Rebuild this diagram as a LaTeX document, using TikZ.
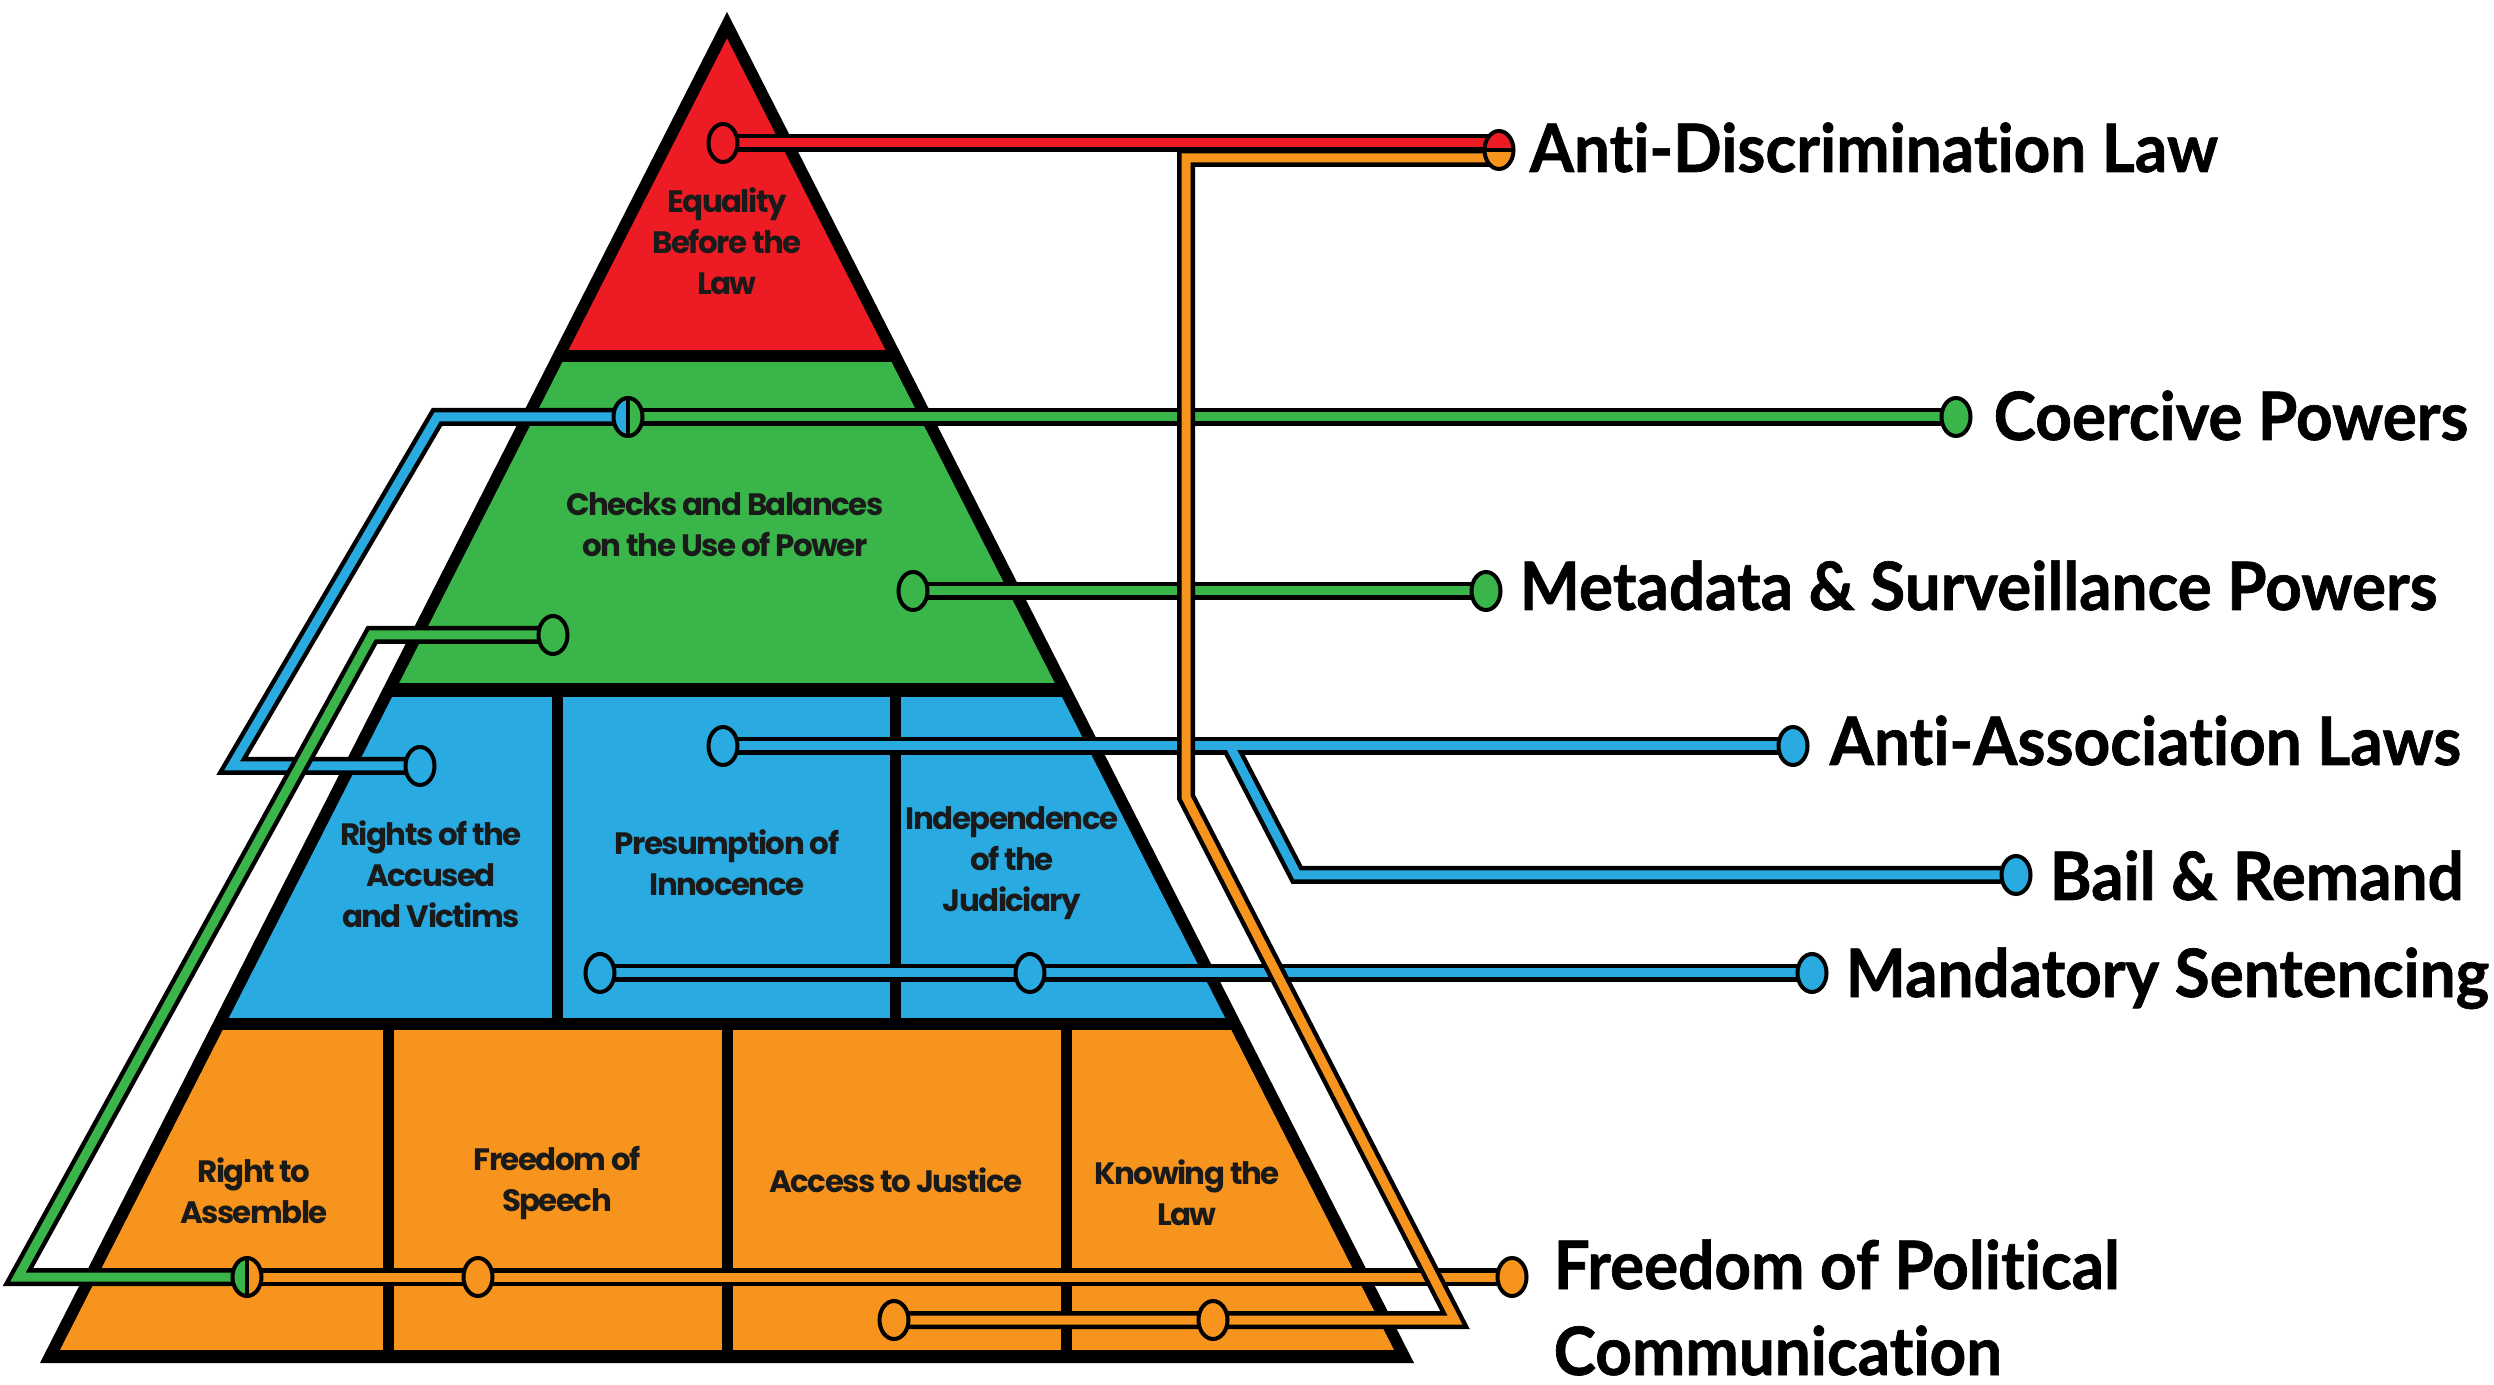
\documentclass[tikz,border=0pt]{standalone}
\usepackage{fontspec}
\usetikzlibrary{shapes.geometric}
\newfontfamily\labfont{Lato}[Ligatures=NoCommon, FakeStretch=0.955, BoldFeatures={FakeBold=1}]
\newfontfamily\inrfont{Poppins}[LetterSpace=-5]
\definecolor{pred}{HTML}{ED1C24}
\definecolor{pgreen}{HTML}{3AB54A}
\definecolor{pblue}{HTML}{29ABE2}
\definecolor{porange}{HTML}{F7941D}
\definecolor{ink}{HTML}{1A1A1A}
\pgfdeclarelayer{pyr}
\pgfdeclarelayer{conn}
\pgfsetlayers{pyr,conn,main}
\begin{document}
\begin{tikzpicture}[x=0.1mm,y=-0.1mm,
  st/.style={ellipse, draw=black, line width=0.4mm, minimum width=2.9mm, minimum height=3.8mm, inner sep=0pt},
  splitv/.style 2 args={st, fill=#2, path picture={\fill[#1] (path picture bounding box.south west) rectangle (path picture bounding box.north); \draw[line width=0.4mm] (path picture bounding box.north) -- (path picture bounding box.south);}},
  splith/.style 2 args={st, fill=#2, path picture={\fill[#1] (path picture bounding box.north west) rectangle (path picture bounding box.east); \draw[line width=0.4mm] (path picture bounding box.west) -- (path picture bounding box.east);}},
  blk/.style={line width=1.8mm, draw=black},
  core/.style={line width=0.9mm, draw=#1},
  inner/.style={font=\inrfont\bfseries\fontsize{8.8}{11.7}\selectfont, align=center, text=ink, inner sep=0pt},
  lab/.style={font=\labfont\bfseries\fontsize{19}{24.5}\selectfont, anchor=base west, inner sep=0pt, text=black}
]
\useasboundingbox (0,0) rectangle (2494,1385);
\begin{pgfonlayer}{pyr}
\fill[white] (0,0) rectangle (2494,1385);
\fill[black] (727,12) -- (1414,1363) -- (40,1363) -- cycle;
\begin{scope}
\clip (727,38.5) -- (1394,1350) -- (60,1350) -- cycle;
\fill[pred] (0,0) rectangle (2494,350);
\fill[pgreen] (0,362) rectangle (2494,683);
\fill[pblue] (0,697) rectangle (2494,1018);
\fill[porange] (0,1030) rectangle (2494,1350);
\fill[black] (551.5,690) rectangle (562.5,1024);
\fill[black] (889.5,690) rectangle (900.5,1024);
\fill[black] (382.5,1024) rectangle (393.5,1356);
\fill[black] (721.5,1024) rectangle (732.5,1356);
\fill[black] (1060.5,1024) rectangle (1071.5,1356);
\end{scope}
\node[inner] (t-eq) at (727,241) {Equality\\Before the\\Law};
\node[inner] (t-cb) at (725,525) {Checks and Balances\\on the Use of Power};
\node[inner] (t-ra) at (431,874) {Rights of the\\Accused\\and Victims};
\node[inner] (t-pi) at (727,863) {Presumption of\\Innocence};
\node[inner] (t-ij) at (1012,863) {Independence\\of the\\Judiciary};
\node[inner] (t-rt) at (254,1191) {Right to\\Assemble};
\node[inner] (t-fs) at (557,1183) {Freedom of\\Speech};
\node[inner] (t-aj) at (896,1180) {Access to Justice};
\node[inner] (t-kl) at (1187,1193) {Knowing the\\Law};
\end{pgfonlayer}
% stations
\node[st, fill=pred] (s-eq) at (723,143) {};
\node[splith={pred}{porange}] (s-adl) at (1499,150) {};
\node[splitv={pblue}{pgreen}] (s-coer) at (628,417) {};
\node[st, fill=pgreen] (s-cp) at (1956,417) {};
\node[st, fill=pgreen] (s-cb1) at (913,591) {};
\node[st, fill=pgreen] (s-msp) at (1486,591) {};
\node[st, fill=pgreen] (s-cb2) at (553,635) {};
\node[st, fill=pblue] (s-rav) at (420,766) {};
\node[st, fill=pblue] (s-pi) at (723,746) {};
\node[st, fill=pblue] (s-aal) at (1793,746) {};
\node[st, fill=pblue] (s-br) at (2016,875) {};
\node[st, fill=pblue] (s-m1) at (600,973) {};
\node[st, fill=pblue] (s-m2) at (1030,973) {};
\node[st, fill=pblue] (s-ms) at (1812,973) {};
\node[splitv={pgreen}{porange}] (s-rta) at (247,1277) {};
\node[st, fill=porange] (s-fs) at (478,1277) {};
\node[st, fill=porange] (s-fpc) at (1512,1277) {};
\node[st, fill=porange] (s-aj) at (894,1320) {};
\node[st, fill=porange] (s-kl) at (1213,1320) {};
% bends
\coordinate (r-end) at (1499,143);
\coordinate (o-start) at (1499,158);
\coordinate (o-b1) at (1186,158);
\coordinate (o-b2) at (1186,797);
\coordinate (o-b3) at (1455,1320);
\coordinate (b-1) at (437,417);
\coordinate (b-2) at (232,766);
\coordinate (g-1) at (372,635);
\coordinate (g-2) at (18,1277);
\coordinate (br-1) at (1230,746);
\coordinate (br-2) at (1297,875);
% labels
\node[lab] (l-adl) at (1529,172) {Anti-Discrimination Law};
\node[lab] (l-cp) at (1993,440) {Coercive Powers};
\node[lab] (l-msp) at (1519,610) {Metadata \& Surveillance Powers};
\node[lab] (l-aal) at (1829,765) {Anti-Association Laws};
\node[lab] (l-br) at (2049,900) {Bail \& Remand};
\node[lab] (l-ms) at (1845,997) {Mandatory Sentencing};
\node[lab] (l-fpc1) at (1553,1289) {Freedom of Political};
\node[lab] (l-fpc2) at (1553,1375) {Communication};
\begin{pgfonlayer}{conn}
% blue
\draw[blk] (s-coer.center) -- (b-1) -- (b-2) -- (s-rav.center);
\draw[blk] (s-pi.center) -- (s-aal.center);
\draw[blk] (br-1) -- (br-2) -- (s-br.center);
\draw[blk] (s-m1.center) -- (s-m2.center) -- (s-ms.center);
\draw[core=pblue] (s-coer.center) -- (b-1) -- (b-2) -- (s-rav.center);
\draw[core=pblue] (s-pi.center) -- (s-aal.center);
\draw[core=pblue] (br-1) -- (br-2) -- (s-br.center);
\draw[core=pblue] (s-m1.center) -- (s-m2.center) -- (s-ms.center);
% green
\draw[blk] (s-coer.center) -- (s-cp.center);
\draw[blk] (s-cb1.center) -- (s-msp.center);
\draw[blk] (s-cb2.center) -- (g-1) -- (g-2) -- (s-rta.center);
\draw[core=pgreen] (s-coer.center) -- (s-cp.center);
\draw[core=pgreen] (s-cb1.center) -- (s-msp.center);
\draw[core=pgreen] (s-cb2.center) -- (g-1) -- (g-2) -- (s-rta.center);
% orange freedom
\draw[blk] (s-rta.center) -- (s-fs.center) -- (s-fpc.center);
\draw[core=porange] (s-rta.center) -- (s-fs.center) -- (s-fpc.center);
% red and orange main
\draw[blk] (s-eq.center) -- (r-end);
\draw[blk] (o-start) -- (o-b1) -- (o-b2) -- (o-b3) -- (s-kl.center) -- (s-aj.center);
\draw[core=pred] (s-eq.center) -- (r-end);
\draw[core=porange] (o-start) -- (o-b1) -- (o-b2) -- (o-b3) -- (s-kl.center) -- (s-aj.center);
\end{pgfonlayer}
\end{tikzpicture}
\end{document}
